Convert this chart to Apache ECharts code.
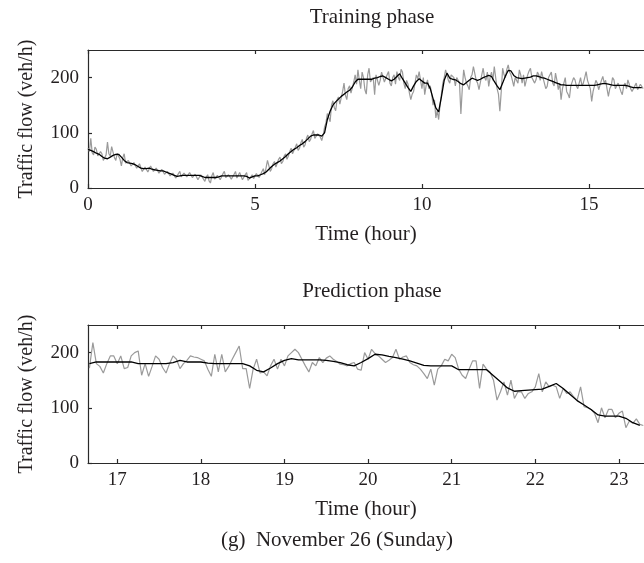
<!DOCTYPE html>
<html>
<head>
<meta charset="utf-8">
<script src="https://cdn.jsdelivr.net/npm/echarts@6/dist/echarts.min.js"></script>
<style>html,body{margin:0;padding:0;background:#fff}#c{width:644px;height:563px}</style>
</head>
<body>
<div id="c"></div>
<script>
// measured flow sampled every 2.5 min, model output every 5 min (hours)
const measuredStepH = 2.5 / 60;
const modelStepH = 5 / 60;
const trainStart = 0;
const predStart = 200 * 5 / 60;

// Training phase: measured (gray), veh/h
const trainMeasured = [
  72, 66, 90, 64, 60, 74, 70, 58, 55, 66, 62, 50, 48, 60, 83, 62, 58, 75, 72, 55, 50, 63, 65, 52,
  40, 55, 62, 45, 42, 50, 52, 40, 38, 46, 48, 36, 33, 44, 42, 30, 30, 38, 40, 29, 32, 40, 38, 30,
  28, 36, 38, 27, 27, 34, 35, 25, 24, 30, 32, 22, 20, 27, 28, 18, 15, 26, 30, 20, 18, 27, 28, 20,
  20, 28, 30, 19, 17, 25, 27, 15, 14, 24, 26, 16, 12, 20, 24, 13, 9, 22, 28, 16, 14, 23, 25, 15,
  16, 26, 30, 19, 18, 24, 27, 16, 14, 25, 30, 18, 20, 28, 26, 15, 15, 24, 28, 14, 12, 20, 24, 17,
  18, 26, 28, 19, 20, 30, 35, 24, 25, 50, 48, 30, 35, 44, 48, 38, 40, 52, 56, 44, 48, 58, 62, 52,
  58, 66, 72, 62, 64, 74, 80, 68, 72, 82, 88, 74, 78, 90, 96, 84, 88, 98, 104, 90, 90, 98, 100, 92,
  86, 96, 110, 118, 135, 128, 120, 150, 158, 146, 140, 160, 165, 152, 150, 175, 190, 168, 160, 180, 185, 172, 175, 192,
  205, 188, 214, 195, 180, 210, 200, 178, 170, 205, 217, 192, 190, 200, 169, 205, 208, 186, 195, 210, 212, 192, 190, 205,
  211, 190, 185, 200, 205, 188, 211, 200, 195, 215, 210, 190, 180, 195, 188, 172, 160, 170, 175, 190, 205, 198, 211, 195,
  180, 200, 169, 185, 196, 180, 185, 170, 150, 160, 127, 140, 124, 150, 170, 190, 200, 214, 214, 195, 190, 205, 208, 200,
  185, 200, 200, 190, 134, 180, 214, 200, 190, 185, 178, 200, 205, 220, 220, 195, 190, 178, 178, 205, 217, 200, 195, 210,
  184, 200, 210, 195, 220, 200, 180, 170, 139, 175, 217, 205, 200, 215, 223, 210, 205, 195, 184, 200, 200, 190, 214, 205,
  190, 205, 184, 195, 205, 212, 217, 200, 195, 190, 196, 210, 205, 195, 211, 200, 190, 180, 184, 200, 200, 210, 190, 185,
  208, 195, 178, 190, 160, 180, 190, 200, 175, 170, 163, 185, 185, 200, 196, 185, 180, 190, 200, 185, 190, 200, 211, 195,
  195, 180, 157, 175, 185, 195, 190, 178, 180, 195, 202, 190, 195, 180, 166, 180, 185, 200, 196, 180, 178, 190, 190, 175,
  169, 185, 190, 180, 196, 188, 180, 175, 172, 185, 190, 178, 178, 188, 185, 180
];
// Training phase: model fit (black), veh/h
const trainFitted = [
  70, 68, 66, 63, 61, 57, 54, 53, 56, 59, 61, 61,
  56, 50, 46, 45, 44, 42, 39, 36, 35, 35, 36, 34,
  33, 32, 31, 31, 29, 27, 25, 23, 21, 22, 23, 23,
  23, 23, 23, 23, 23, 21, 19, 19, 19, 19, 19, 20,
  22, 22, 22, 22, 22, 22, 22, 22, 22, 21, 18, 20,
  22, 22, 24, 26, 29, 34, 39, 43, 46, 49, 53, 57,
  62, 66, 70, 73, 77, 80, 84, 89, 94, 96, 96, 96,
  94, 100, 124, 139, 150, 156, 161, 166, 170, 174, 177, 183,
  192, 197, 197, 197, 197, 197, 197, 199, 200, 202, 203, 200,
  197, 194, 197, 202, 207, 198, 190, 182, 175, 185, 193, 198,
  194, 190, 190, 180, 162, 145, 138, 165, 195, 208, 199, 197,
  196, 193, 189, 187, 191, 195, 199, 197, 195, 197, 200, 202,
  204, 202, 193, 185, 178, 190, 203, 213, 212, 204, 200, 199,
  198, 199, 200, 201, 203, 203, 202, 200, 199, 197, 195, 193,
  191, 189, 187, 187, 186, 186, 186, 186, 186, 186, 186, 186,
  186, 186, 186, 187, 188, 189, 189, 188, 187, 186, 186, 186,
  186, 186, 185, 183, 182, 182, 182, 182
];

// Prediction phase: measured (gray), veh/h
const predMeasured = [
  172, 218, 180, 175, 163, 180, 194, 194, 180, 194, 171, 173, 194, 200, 203, 159, 180, 157, 175, 194,
  188, 173, 163, 180, 194, 188, 171, 180, 186, 194, 192, 191, 188, 185, 170, 157, 197, 165, 197, 165,
  175, 188, 200, 212, 171, 171, 135, 170, 188, 163, 165, 158, 176, 188, 170, 188, 176, 194, 200, 206,
  200, 188, 176, 165, 182, 176, 191, 182, 190, 194, 188, 184, 179, 178, 176, 180, 182, 170, 168, 200,
  188, 206, 198, 194, 188, 182, 186, 191, 206, 188, 192, 194, 182, 178, 176, 170, 162, 153, 170, 141,
  170, 176, 188, 185, 197, 191, 170, 159, 153, 170, 185, 185, 135, 179, 170, 165, 150, 114, 129, 147,
  123, 150, 117, 129, 129, 117, 126, 129, 138, 162, 129, 147, 138, 141, 138, 117, 135, 126, 129, 120,
  114, 138, 102, 100, 97, 90, 73, 100, 82, 97, 97, 82, 90, 94, 64, 76, 72, 80, 70, 68
];
// Prediction phase: model forecast (black), veh/h
const predForecast = [
  180, 183, 183, 183, 183, 183, 183, 180, 180, 180, 180, 180,
  182, 186, 183, 183, 183, 181, 180, 180, 180, 180, 180, 176,
  168, 165, 172, 180, 186, 189, 187, 187, 187, 187, 186, 184,
  182, 178, 176, 182, 189, 197, 196, 193, 191, 188, 185, 181,
  177, 176, 176, 176, 176, 169, 169, 169, 169, 169, 158, 147,
  136, 130, 131, 132, 133, 134, 139, 144, 135, 124, 113, 105,
  97, 87, 85, 85, 85, 81, 73, 68
];

const trainTicks = [0, 5, 10, 15];
const predTicks = [17, 18, 19, 20, 21, 22, 23];
const yTicks = [0, 100, 200];

function pairs(start, step, vals) {
  return vals.map((v, i) => [start + i * step, v]);
}

const FONT = 'Liberation Serif';
const FS_TICK = 19;
const FS_TEXT = 21;
const textCol = '#231f20';
const axisCol = '#2a2a2a';

function xAxes(gridIndex, min, max, ticks) {
  const base = {
    type: 'value', gridIndex, min, max,
    splitLine: { show: false },
    axisLine: { show: true, onZero: false, lineStyle: { color: axisCol, width: 1.2 } },
    axisTick: { show: true, inside: true, length: 4, customValues: ticks, lineStyle: { color: axisCol, width: 1.2 } }
  };
  return [
    Object.assign({}, base, {
      position: 'bottom',
      name: 'Time (hour)', nameLocation: 'middle', nameGap: 36,
      nameTextStyle: { fontFamily: FONT, fontSize: FS_TEXT, color: textCol },
      axisLabel: { show: true, customValues: ticks, margin: 8, fontFamily: FONT, fontSize: FS_TICK, color: textCol }
    }),
    Object.assign({}, base, {
      position: 'top',
      axisLabel: { show: false }
    })
  ];
}

function yAxis(gridIndex) {
  return {
    type: 'value', gridIndex, min: 0, max: 250, position: 'left',
    splitLine: { show: false },
    name: 'Traffic flow (veh/h)', nameLocation: 'middle', nameGap: 51,
    nameTextStyle: { fontFamily: FONT, fontSize: 20, color: textCol },
    axisLine: { show: true, lineStyle: { color: axisCol, width: 1.2 } },
    axisTick: { show: true, inside: true, length: 4, customValues: yTicks, lineStyle: { color: axisCol, width: 1.2 } },
    axisLabel: { show: true, customValues: yTicks, margin: 9, fontFamily: FONT, fontSize: FS_TICK, color: textCol }
  };
}

const chart = echarts.init(document.getElementById('c'), null, { renderer: 'canvas' });
const xa = xAxes(0, 0, 16.65, trainTicks).concat(xAxes(1, 16.65, 23.3, predTicks));
const tf = FS_TEXT + 'px "' + FONT + '"';

chart.setOption({
  animation: false,
  backgroundColor: '#fff',
  grid: [
    { left: 88, right: -12, top: 50, height: 138 },
    { left: 88, right: -12, top: 325, height: 138 }
  ],
  xAxis: xa,
  yAxis: [yAxis(0), yAxis(1)],
  graphic: [
    { type: 'text', x: 372, y: 17, style: { text: 'Training phase', font: tf, fill: textCol, textAlign: 'center', textVerticalAlign: 'middle' } },
    { type: 'text', x: 372, y: 291, style: { text: 'Prediction phase', font: tf, fill: textCol, textAlign: 'center', textVerticalAlign: 'middle' } },
    { type: 'text', x: 337, y: 540, style: { text: '(g)  November 26 (Sunday)', font: tf, fill: textCol, textAlign: 'center', textVerticalAlign: 'middle' } }
  ],
  series: [
    { type: 'line', xAxisIndex: 0, yAxisIndex: 0, data: pairs(trainStart, measuredStepH, trainMeasured), showSymbol: false, lineStyle: { color: '#9a9a9a', width: 1.2 }, z: 2 },
    { type: 'line', xAxisIndex: 0, yAxisIndex: 0, data: pairs(trainStart, modelStepH, trainFitted), showSymbol: false, lineStyle: { color: '#000', width: 1.3 }, z: 3 },
    { type: 'line', xAxisIndex: 2, yAxisIndex: 1, data: pairs(predStart, measuredStepH, predMeasured), showSymbol: false, lineStyle: { color: '#9a9a9a', width: 1.2 }, z: 2 },
    { type: 'line', xAxisIndex: 2, yAxisIndex: 1, data: pairs(predStart, modelStepH, predForecast), showSymbol: false, lineStyle: { color: '#000', width: 1.3 }, z: 3 }
  ]
});
</script>
</body>
</html>
